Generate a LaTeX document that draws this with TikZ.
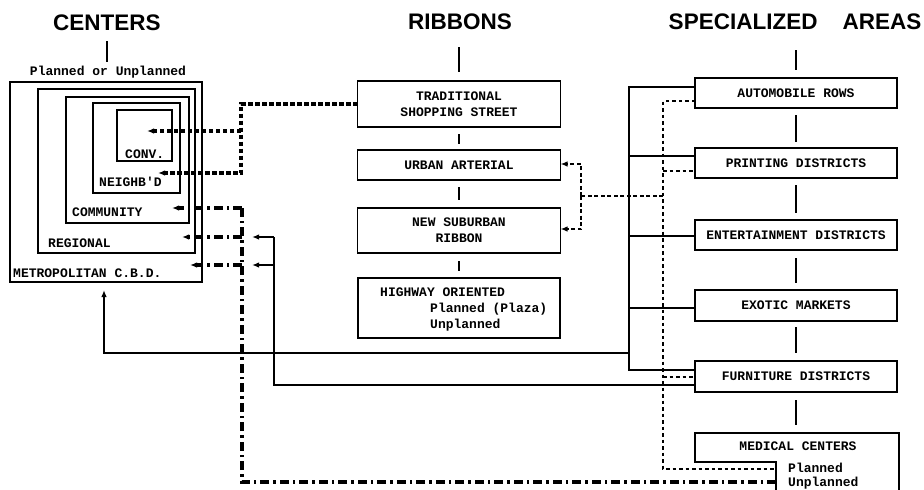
\documentclass[tikz,border=0pt]{standalone}
\usepackage{fontspec}
\setmonofont{Liberation Mono}
\newfontfamily\hdrfont{Liberation Sans}
\usetikzlibrary{arrows.meta}
\begin{document}
\begin{tikzpicture}[x=1pt,y=-1pt,
  box/.style={draw, line width=1.5pt, inner sep=0pt, outer sep=0pt},
  lbl/.style={font=\ttfamily\bfseries\fontsize{13}{16}\selectfont, inner sep=0pt, align=center},
  hdr/.style={font=\hdrfont\bfseries\fontsize{22.5}{26}\selectfont, inner sep=0pt, anchor=base},
  tick/.style={line width=2pt},
  sol/.style={line width=1.8pt},
  tip/.style={-{Latex[length=7pt,width=5.5pt]}},
  heavydash/.style={line width=3.2pt, dash pattern=on 4.5pt off 2.5pt},
  brdash/.style={line width=2.6pt, dash pattern=on 4pt off 2.5pt},
  spdash/.style={line width=2.5pt, dash pattern=on 3.5pt off 3pt},
  dashdot/.style={line width=3.2pt, dash pattern=on 9pt off 4pt on 2.5pt off 4pt},
  rib/.style={box, lbl, minimum width=203pt},
  spec/.style={box, lbl, minimum width=202pt, minimum height=30pt},
]
\useasboundingbox (0,0) rectangle (924,490);
\clip (0,0) rectangle (924,490);

% ---------- headers ----------
\node[hdr] (hC) at (107,30) {CENTERS};
\node[hdr] (hR) at (460,29) {RIBBONS};
\node[hdr] (hS) at (795,29) {SPECIALIZED\hspace{25pt}AREAS};
\coordinate (cT1) at (107,41); \coordinate (cT2) at (107,62);
\coordinate (rT1) at (459,47); \coordinate (rT2) at (459,72);
\coordinate (sT1) at (796,50); \coordinate (sT2) at (796,70);
\draw[tick] (cT1) -- (cT2);
\draw[tick] (rT1) -- (rT2);
\draw[tick] (sT1) -- (sT2);

% ---------- centers ----------
\node[lbl, anchor=base] (pou) at (108,75) {Planned or Unplanned};
\node[box, minimum width=192pt, minimum height=200pt] (metro) at (106,182) {};
\node[box, minimum width=157pt, minimum height=164pt] (regional) at (116.5,171) {};
\node[box, minimum width=123pt, minimum height=126pt] (community) at (127.5,160) {};
\node[box, minimum width=87pt, minimum height=90pt] (neighb) at (136.5,148) {};
\node[box, minimum width=55pt, minimum height=51pt] (conv) at (144.5,135.5) {};
\node[lbl, anchor=base west] (lConv) at (125,158) {CONV.};
\node[lbl, anchor=base west] (lNeigh) at (99,186) {NEIGHB'D};
\node[lbl, anchor=base west] (lComm) at (72,216) {COMMUNITY};
\node[lbl, anchor=base west] (lReg) at (48,247) {REGIONAL};
\node[lbl, anchor=base west] (lMetro) at (13,277) {METROPOLITAN C.B.D.};

% ---------- ribbons ----------
\node[rib, minimum height=46pt] (trad) at (459,104) {TRADITIONAL\\SHOPPING STREET};
\node[rib, minimum height=30pt] (urban) at (459,165) {URBAN ARTERIAL};
\node[rib, minimum height=45pt] (suburb) at (459,230.5) {NEW SUBURBAN\\RIBBON};
\node[box, minimum width=202pt, minimum height=60pt] (highway) at (459,308) {};
\node[lbl, anchor=west, align=left] (hwtext) at (380,309)
  {HIGHWAY ORIENTED\\\hspace*{50pt}Planned (Plaza)\\\hspace*{50pt}Unplanned};
\draw[tick] ([yshift=-7pt]trad.south) -- ([yshift=6pt]urban.north);
\draw[tick] ([yshift=-7pt]urban.south) -- ([yshift=8pt]suburb.north);
\draw[tick] ([yshift=-8pt]suburb.south) -- ([yshift=7pt]highway.north);

% ---------- specialized areas ----------
\node[spec] (auto) at (796,93) {AUTOMOBILE ROWS};
\node[spec] (print) at (796,163) {PRINTING DISTRICTS};
\node[spec] (ent) at (796,235) {ENTERTAINMENT DISTRICTS};
\node[spec, minimum height=31pt] (exotic) at (796,305.5) {EXOTIC MARKETS};
\node[spec, minimum height=31pt] (furn) at (796,376.5) {FURNITURE DISTRICTS};
\draw[tick] ([yshift=-7pt]auto.south) -- ([yshift=6pt]print.north);
\draw[tick] ([yshift=-7pt]print.south) -- ([yshift=7pt]ent.north);
\draw[tick] ([yshift=-8pt]ent.south) -- ([yshift=7pt]exotic.north);
\draw[tick] ([yshift=-6pt]exotic.south) -- ([yshift=8pt]furn.north);

% medical centers (stepped box)
\coordinate (medTL) at (695,433);
\coordinate (medTR) at (899,433);
\coordinate (medTop) at (796,433);
\coordinate (medStep) at (695,462);
\coordinate (medStepIn) at (776,462);
\coordinate (medBL) at (776,500);
\coordinate (medBR) at (899,500);
\draw[line width=1.5pt] (medBL) -- (medStepIn) -- (medStep) -- (medTL) -- (medTR) -- (medBR);
\node[lbl] (medtext) at (798,446) {MEDICAL CENTERS};
\node[lbl, anchor=base west] (medPl) at (788,472) {Planned};
\node[lbl, anchor=base west] (medUn) at (788,486) {Unplanned};
\draw[tick] ([yshift=-8pt]furn.south) -- ([yshift=8pt]medTop);

% ---------- solid links from specialized areas ----------
\coordinate (va) at (629,87);
\coordinate (vp) at (629,156);
\coordinate (ve) at (629,236);
\coordinate (vm) at (629,353);
\coordinate (vx) at (629,308);
\coordinate (vf) at (629,370);
\draw[sol] (va -| auto.west) -- (va) -- (vf) -- (vf -| furn.west);
\draw[sol] (vp) -- (vp -| print.west);
\draw[sol] (ve) -- (ve -| ent.west);
\draw[sol] (vx) -- (vx -| exotic.west);
\coordinate (m1) at (104,353);
\coordinate (tipUp) at (104,290);
\draw[sol, line width=1.5pt, tip] (vm) -- (m1) -- (tipUp);

\coordinate (s1) at (274,237);
\coordinate (s2) at (274,265);
\coordinate (s3) at (274,385);
\coordinate (tipS1) at (252,237);
\coordinate (tipS2) at (252,265);
\draw[sol] (s3 -| furn.west) -- (s3) -- (s1);
\draw[sol, tip] (s1) -- (tipS1);
\draw[sol, tip] (s2) -- (tipS2);

% ---------- dashed links ----------
\coordinate (da) at (663,101);
\coordinate (dp) at (663,171);
\coordinate (db) at (663,196);
\coordinate (dfu) at (663,377);
\coordinate (dm) at (663,469);
\coordinate (medP) at (776,469);
\draw[spdash] (da -| auto.west) -- (da) -- (dm) -- (medP);
\draw[spdash] (dp) -- (dp -| print.west);
\draw[spdash] (dfu) -- (dfu -| furn.west);

\coordinate (b1) at (581,164);
\coordinate (b2) at (581,196);
\coordinate (b3) at (581,229);
\draw[brdash] (db) -- (b2);
\draw[brdash, tip] (b2) -- (b1) -- (b1 -| urban.east);
\draw[brdash, tip] (b2) -- (b3) -- (b3 -| suburb.east);

% ---------- heavy dashed from traditional street ----------
\coordinate (j1) at (241,104);
\coordinate (j2) at (241,131);
\coordinate (j3) at (241,173);
\coordinate (tipConv) at (147,131);
\coordinate (tipNeigh) at (158,173);
\draw[heavydash, tip] (trad.west) -- (j1) -- (j3) -- (tipNeigh);
\draw[heavydash, tip] (j2) -- (tipConv);

% ---------- dash-dot from medical centers ----------
\coordinate (medU) at (776,482);
\coordinate (d1) at (242,208);
\coordinate (d2) at (242,237);
\coordinate (d3) at (242,265);
\coordinate (d4) at (242,482);
\coordinate (tipComm) at (172,208);
\coordinate (tipReg) at (182,237);
\coordinate (tipMetro) at (190,265);
\draw[dashdot] (medU) -- (d4) -- (d1);
\draw[dashdot, tip] (d1) -- (tipComm);
\draw[dashdot, tip] (d2) -- (tipReg);
\draw[dashdot, tip] (d3) -- (tipMetro);
\end{tikzpicture}
\end{document}
